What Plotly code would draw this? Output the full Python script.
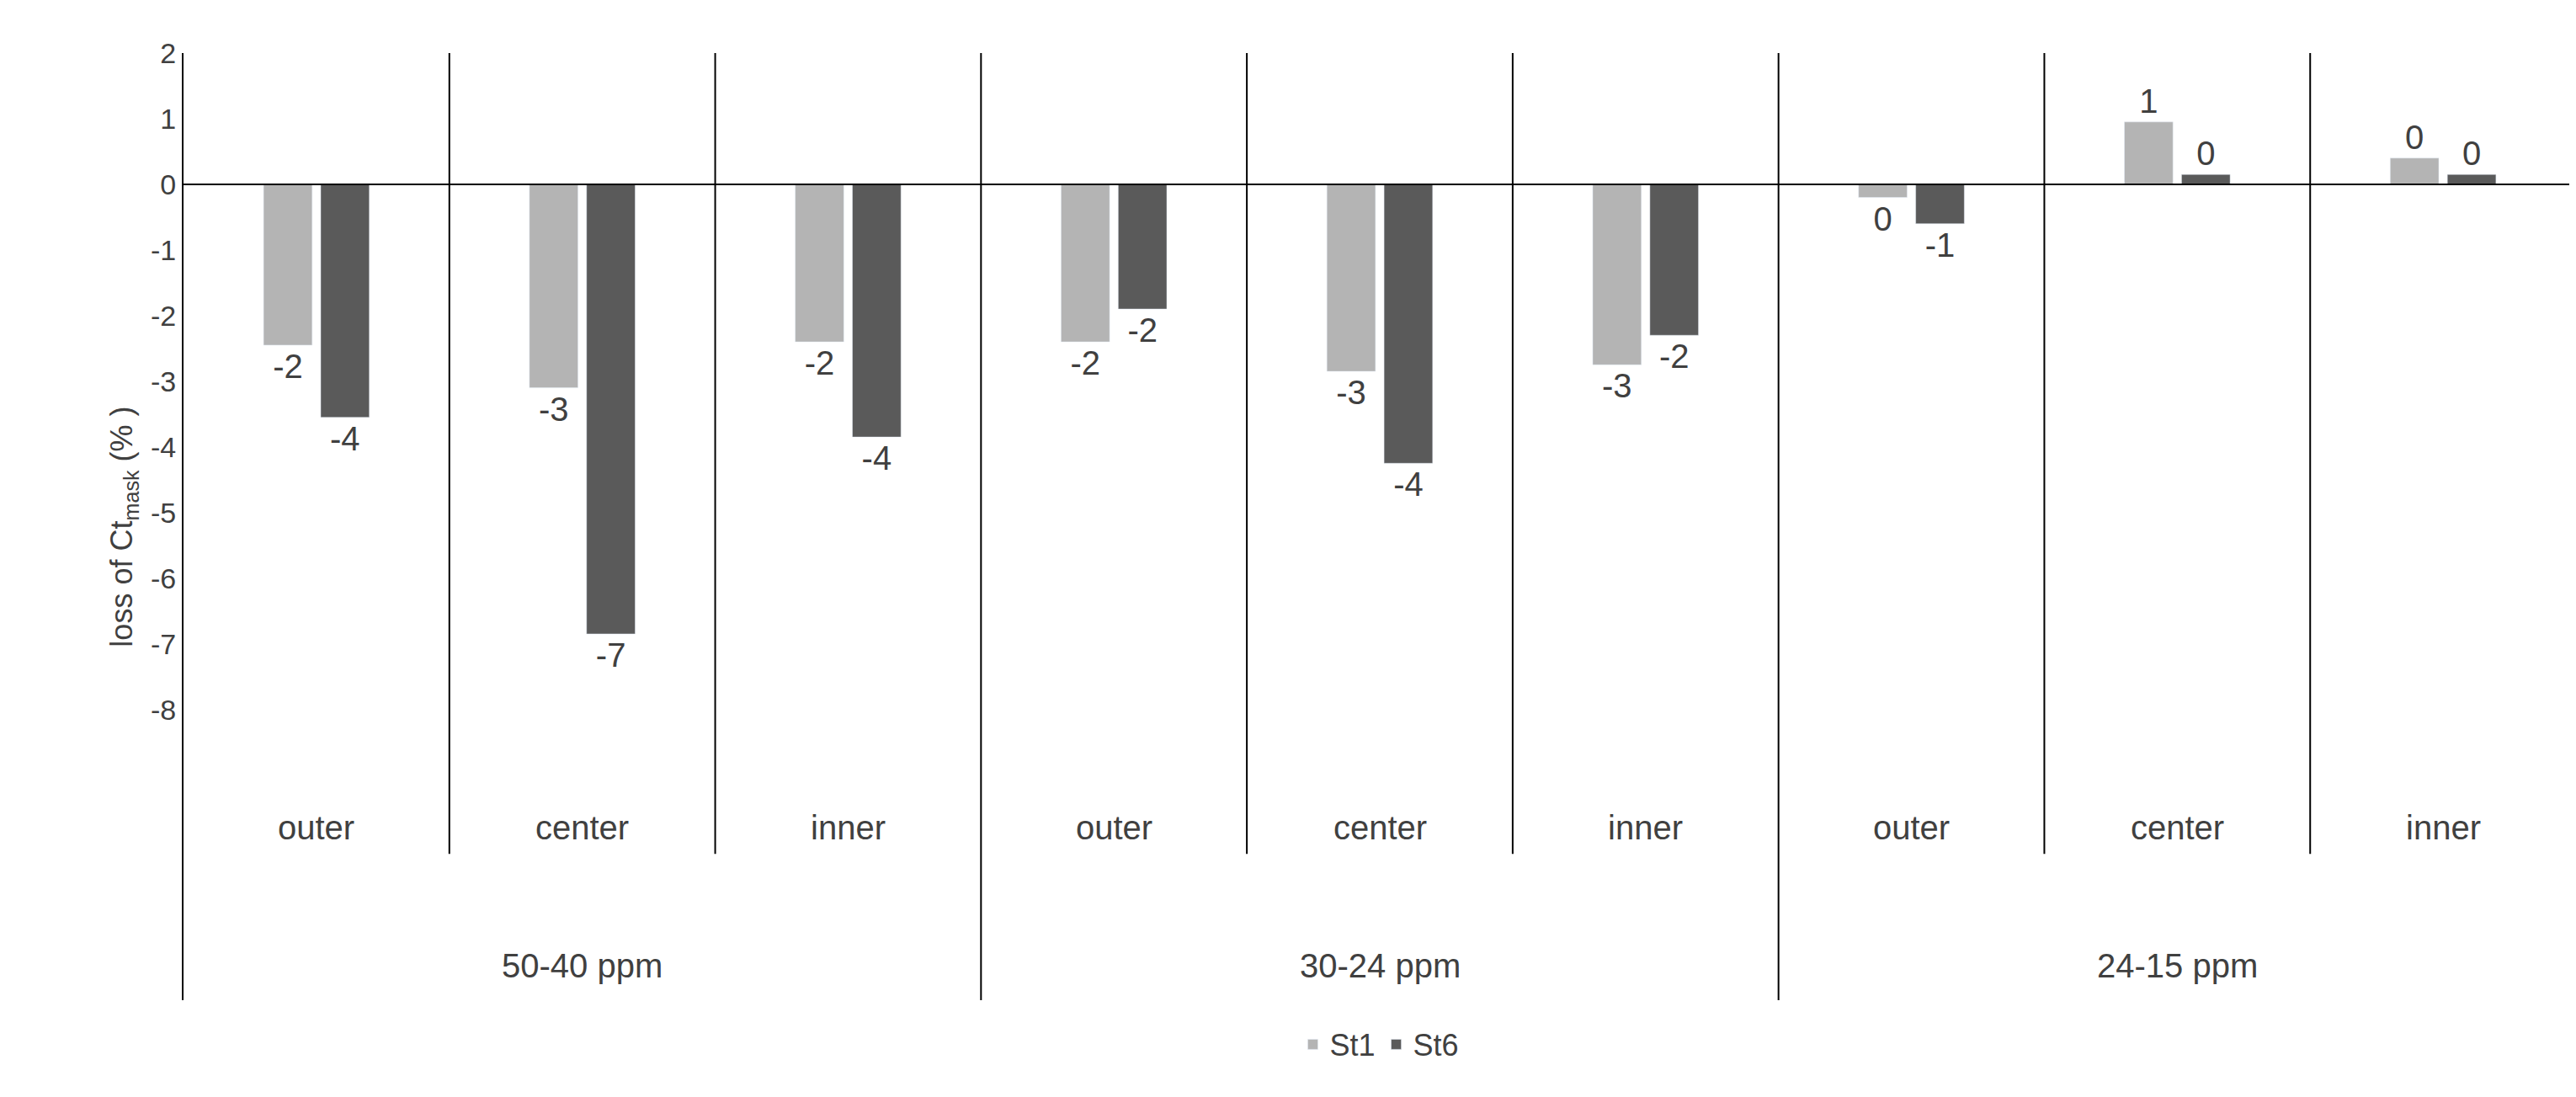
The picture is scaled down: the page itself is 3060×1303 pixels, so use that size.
import plotly.graph_objects as go

categories = ["outer", "center", "inner"] * 3
groups = ["50-40 ppm", "30-24 ppm", "24-15 ppm"]
st1 = [-2.45, -3.1, -2.4, -2.4, -2.85, -2.75, -0.2, 0.95, 0.4]
st6 = [-3.55, -6.85, -3.85, -1.9, -4.25, -2.3, -0.6, 0.15, 0.15]
yticks = list(range(-8, 3))

xs = list(range(len(categories)))
font = "Liberation Sans, Arial, sans-serif"
grey = "#404040"

fig = go.Figure()
fig.add_trace(go.Bar(x=xs, y=st1, name="St1", marker_color="#b4b4b4",
                     text=[str(round(v)) for v in st1], textposition="outside",
                     textfont=dict(size=40, color=grey), cliponaxis=False))
fig.add_trace(go.Bar(x=xs, y=st6, name="St6", marker_color="#5a5a5a",
                     text=[str(round(v)) for v in st6], textposition="outside",
                     textfont=dict(size=40, color=grey), cliponaxis=False))

bottom = -12.43
shapes = [dict(type="line", xref="x", yref="y", x0=-0.5, x1=8.5, y0=0, y1=0,
               line=dict(color="black", width=2))]
for k in range(len(categories) - 1):
    y0 = bottom if (k + 1) % 3 == 0 else -10.2
    shapes.append(dict(type="line", xref="x", yref="y", x0=k + 0.5, x1=k + 0.5,
                       y0=y0, y1=2, line=dict(color="black", width=2)))

annotations = [dict(x=i, y=-9.8, xref="x", yref="y", text=c, showarrow=False,
                    font=dict(size=40, color=grey)) for i, c in enumerate(categories)]
annotations += [dict(x=3 * j + 1, y=-11.9, xref="x", yref="y", text=g, showarrow=False,
                     font=dict(size=40, color=grey)) for j, g in enumerate(groups)]

fig.update_layout(
    width=3060, height=1303,
    margin=dict(l=210, r=8, t=55, b=123),
    paper_bgcolor="white", plot_bgcolor="white",
    font=dict(family=font, color=grey, size=34),
    barmode="group", bargap=0.57, bargroupgap=0.15,
    showlegend=True,
    legend=dict(orientation="h", x=0.5, xanchor="center", y=-0.02, yanchor="top",
                font=dict(size=36, color=grey)),
    xaxis=dict(range=[-0.5, 8.5], showticklabels=False, showgrid=False, zeroline=False),
    yaxis=dict(range=[bottom, 2], tickvals=yticks, ticktext=[str(t) for t in yticks],
               showgrid=False, zeroline=False,
               showline=True, linecolor="black", linewidth=2,
               title=dict(text="loss of Ct<sub>mask</sub> (% )", font=dict(size=36, color=grey),
                          standoff=10),
               tickfont=dict(size=34, color=grey)),
    shapes=shapes, annotations=annotations,
)

fig.write_html("out.html")
